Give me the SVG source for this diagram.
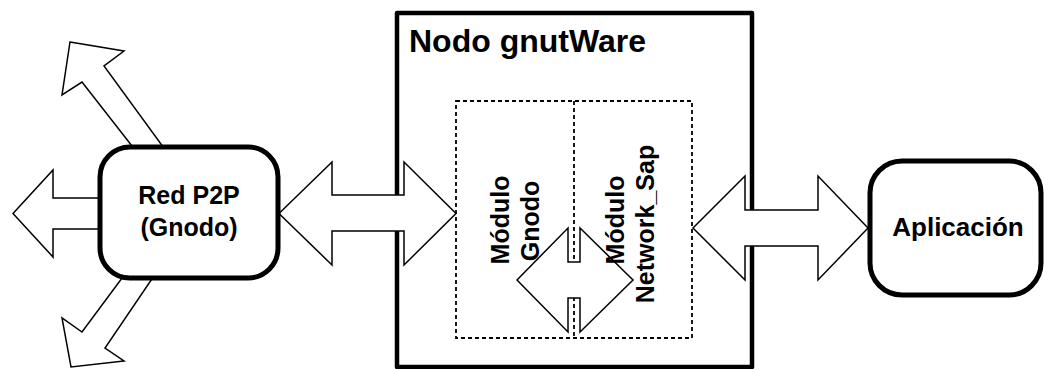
<svg xmlns="http://www.w3.org/2000/svg" width="1044" height="369" viewBox="0 0 1044 369">
<style>
.frame{fill:#fff;stroke:#000;stroke-width:4.5;stroke-linejoin:round}
.dash{fill:none;stroke:#000;stroke-width:1.8;stroke-dasharray:4 3}
.arrow{fill:#fff;stroke:#000;stroke-width:1.5;stroke-linejoin:miter}
.node{fill:#fff;stroke:#000;stroke-width:5}
.t{font-family:"Liberation Sans",Arial,sans-serif;font-weight:bold;fill:#000}
</style>
<rect width="1044" height="369" fill="#fff"/>
<g id="nodo-gnutware">
<rect class="frame" x="397" y="13" width="355" height="354"/>
<text class="t" x="409" y="52" font-size="32">Nodo gnutWare</text>
</g>
<g id="modulos">
<rect class="dash" x="456" y="101" width="236" height="237"/>
<line class="dash" x1="574" y1="101" x2="574" y2="338"/>
</g>
<g id="connectors">
<polygon class="arrow" points="70,42 124,51 104,66 169,155 139,155 82,82 62,95"/>
<polygon class="arrow" points="13,213.5 53,170 53,198 110,198 110,229 53,229 53,257"/>
<polygon class="arrow" points="128,270 82,332 62,318 71,367 124,361 105,348 158,270"/>
<polygon class="arrow" points="279,213.5 332,162 332,195 404,195 404,162 456,213.5 404,265 404,231 332,231 332,265"/>
<polygon class="arrow" points="693,228 745,176 745,210 818,210 818,176 868,228 818,280 818,246 745,246 745,280"/>
<polygon class="arrow" points="517,280 568,228 568,262 580,262 580,228 633,280 580,332 580,298 568,298 568,332"/>
</g>
<g id="red-p2p">
<rect class="node" x="100" y="147" width="178" height="131" rx="30" ry="30"/>
<text class="t" x="189" y="204" font-size="25" text-anchor="middle">Red P2P</text>
<text class="t" x="189" y="236" font-size="25" text-anchor="middle">(Gnodo)</text>
</g>
<g id="aplicacion">
<rect class="node" x="870" y="161" width="171" height="134" rx="32" ry="32"/>
<text class="t" x="958" y="236" font-size="26" text-anchor="middle">Aplicación</text>
</g>
<g id="modulo-gnodo">
<text class="t" font-size="25" text-anchor="middle" transform="translate(509,220) rotate(-90)">Módulo</text>
<text class="t" font-size="25" text-anchor="middle" transform="translate(539,221) rotate(-90)">Gnodo</text>
</g>
<g id="modulo-network-sap">
<text class="t" font-size="25" text-anchor="middle" transform="translate(624,220) rotate(-90)">Módulo</text>
<text class="t" font-size="25" text-anchor="middle" transform="translate(654,224) rotate(-90)">Network_Sap</text>
</g>
</svg>
